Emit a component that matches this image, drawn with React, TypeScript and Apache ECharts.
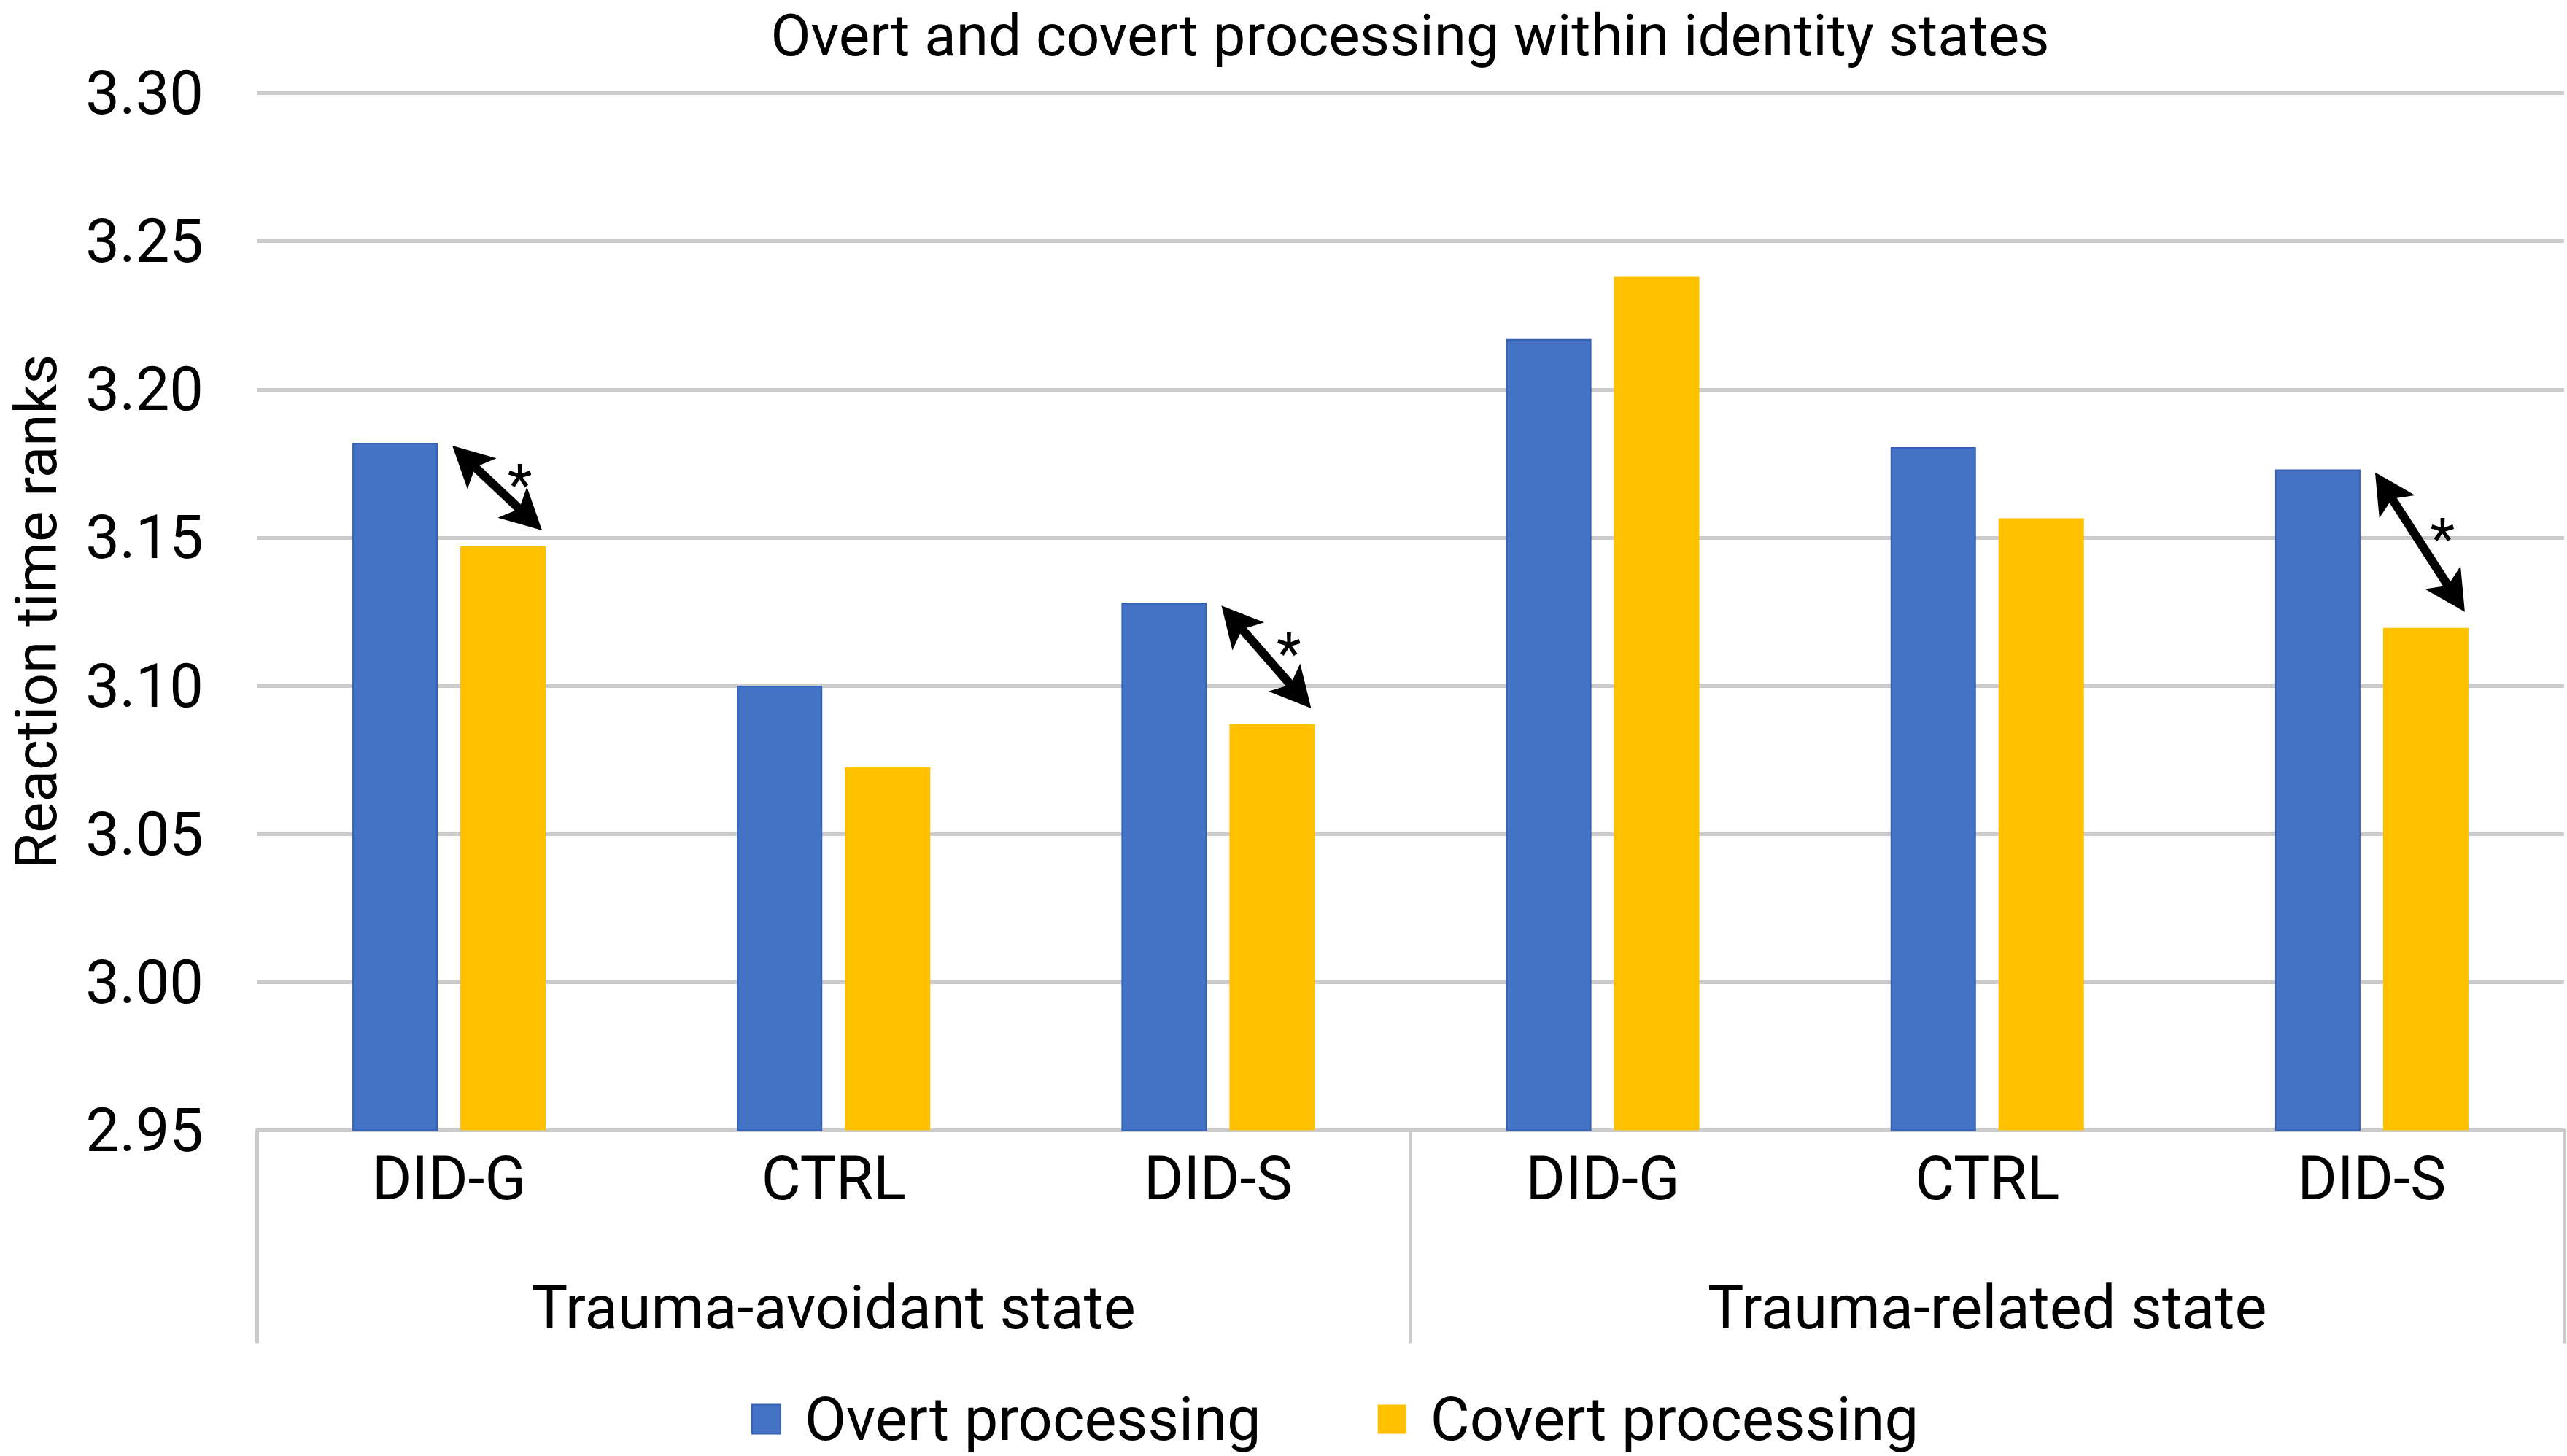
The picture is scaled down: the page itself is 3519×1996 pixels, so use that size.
import React, { useEffect, useRef } from "react";
import * as echarts from "echarts";

const categories = ["DID-G", "CTRL", "DID-S", "DID-G", "CTRL", "DID-S"];
const groups = ["Trauma-avoidant state", "Trauma-related state"];
const overt = [3.182, 3.1, 3.128, 3.217, 3.1805, 3.173];
const covert = [3.147, 3.0725, 3.087, 3.238, 3.1565, 3.1195];
const significant = [0, 2, 5];
const yTicks = { min: 2.95, max: 3.3, interval: 0.05 };
const titleText = "Overt and covert processing within identity states";
const yName = "Reaction time ranks";
const seriesNames = ["Overt processing", "Covert processing"];

const FONT = "Roboto";
const FS = 83;
const BAR_W = 117;
const BAR_GAP = 31;
const GRID_COLOR = "#cbcbcb";

export default function App() {
  const ref = useRef<HTMLDivElement>(null);
  useEffect(() => {
    if (!ref.current) return;
    const chart = echarts.init(ref.current, undefined, { renderer: "svg" });
    const arrowData = significant.map((i) => [i, overt[i], covert[i]]);
    chart.setOption({
      animation: false,
      backgroundColor: "#ffffff",
      textStyle: { fontFamily: FONT },
      title: {
        text: titleText,
        left: 1933,
        top: 9,
        textAlign: "center",
        padding: 0,
        textStyle: { fontFamily: FONT, fontSize: 80, fontWeight: "normal", color: "#000" },
      },
      legend: {
        data: seriesNames,
        left: 1030,
        top: 1904,
        padding: 0,
        itemWidth: 39,
        itemHeight: 40,
        itemGap: 160,
        icon: "rect",
        textStyle: { fontFamily: FONT, fontSize: FS, color: "#000", padding: [0, 0, 0, 28] },
      },
      grid: {
        left: 352,
        right: 4,
        top: 127.5,
        bottom: 446.5,
        containLabel: false,
        outerBoundsMode: "none",
      },
      xAxis: [
        {
          type: "category",
          data: categories,
          position: "bottom",
          axisLine: { show: true, lineStyle: { color: GRID_COLOR, width: 5 } },
          axisTick: { show: false },
          axisLabel: {
            interval: 0,
            margin: 24,
            fontFamily: FONT,
            fontSize: FS,
            color: "#000",
          },
        },
        {
          type: "category",
          data: groups,
          position: "bottom",
          offset: 0,
          axisLine: { show: false },
          axisTick: {
            show: true,
            interval: 0,
            length: 292,
            lineStyle: { color: GRID_COLOR, width: 5 },
          },
          axisLabel: {
            interval: 0,
            margin: 201,
            fontFamily: FONT,
            fontSize: FS,
            color: "#000",
          },
        },
      ],
      yAxis: {
        type: "value",
        min: yTicks.min,
        max: yTicks.max,
        interval: yTicks.interval,
        name: yName,
        nameLocation: "middle",
        nameRotate: 90,
        nameGap: 262,
        nameTextStyle: { fontFamily: FONT, fontSize: 80, color: "#000" },
        axisLine: { show: false },
        axisTick: { show: false },
        splitLine: { show: true, lineStyle: { color: GRID_COLOR, width: 5 } },
        axisLabel: {
          margin: 73,
          fontFamily: FONT,
          fontSize: FS,
          color: "#000",
          formatter: (v: number) => v.toFixed(2),
        },
      },
      series: [
        {
          name: seriesNames[0],
          type: "bar",
          data: overt,
          barWidth: BAR_W,
          barGap: `${((BAR_GAP / BAR_W) * 100).toFixed(1)}%`,
          itemStyle: { color: "#4472C4", borderColor: "#3461b5", borderWidth: 2 },
          z: 2,
        },
        {
          name: seriesNames[1],
          type: "bar",
          data: covert,
          barWidth: BAR_W,
          itemStyle: { color: "#FFC000" },
          z: 2,
        },
        {
          type: "custom",
          data: arrowData,
          z: 5,
          silent: true,
          encode: { x: 0, y: [1, 2] },
          renderItem: (params: any, api: any) => {
            const cat = api.value(0);
            const p1 = api.coord([cat, api.value(1)]);
            const p2 = api.coord([cat, api.value(2)]);
            const cx = p1[0];
            const x1 = cx - BAR_GAP / 2 + 20;
            const y1 = p1[1] + 4;
            const x2 = cx + BAR_GAP / 2 + BAR_W - 5;
            const y2 = p2[1] - 22;
            const dx = x2 - x1;
            const dy = y2 - y1;
            const len = Math.sqrt(dx * dx + dy * dy);
            const ux = dx / len;
            const uy = dy / len;
            const px = -uy;
            const py = ux;
            const L = 56;
            const W = 29;
            const N = 13;
            const head = (tx: number, ty: number, s: number) => [
              [tx, ty],
              [tx + s * ux * L + px * W, ty + s * uy * L + py * W],
              [tx + s * ux * (L - N), ty + s * uy * (L - N)],
              [tx + s * ux * L - px * W, ty + s * uy * L - py * W],
            ];
            const mx = (x1 + x2) / 2;
            const my = (y1 + y2) / 2;
            return {
              type: "group",
              children: [
                {
                  type: "line",
                  shape: {
                    x1: x1 + ux * (L - N - 2),
                    y1: y1 + uy * (L - N - 2),
                    x2: x2 - ux * (L - N - 2),
                    y2: y2 - uy * (L - N - 2),
                  },
                  style: { stroke: "#000", lineWidth: 12 },
                },
                { type: "polygon", shape: { points: head(x1, y1, 1) }, style: { fill: "#000" } },
                { type: "polygon", shape: { points: head(x2, y2, -1) }, style: { fill: "#000" } },
                {
                  type: "text",
                  x: mx + 31,
                  y: my - 4,
                  style: {
                    text: "*",
                    fontFamily: FONT,
                    fontSize: 78,
                    fill: "#000",
                    align: "center",
                    verticalAlign: "middle",
                  },
                },
              ],
            };
          },
        },
      ],
    });
    return () => chart.dispose();
  }, []);
  return (
    <div
      ref={ref}
      style={{ position: "fixed", left: 0, top: 0, width: 3519, height: 1996, background: "#fff" }}
    />
  );
}
